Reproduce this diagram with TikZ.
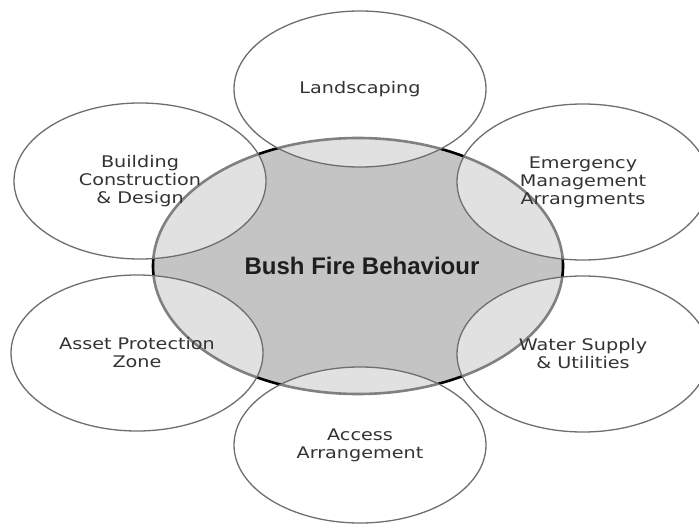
\documentclass[tikz,border=0pt]{standalone}
\usepackage{fontspec}
\setmainfont{DejaVu Sans}
\newfontfamily\labelfont[FakeStretch=1.2]{DejaVu Sans}
\newfontfamily\titlefont{Liberation Sans}
\usetikzlibrary{shapes.geometric}
\definecolor{coregray}{HTML}{C4C4C4}
\definecolor{petalline}{HTML}{6E6E6E}
\definecolor{labeltext}{HTML}{333333}
\definecolor{titletext}{HTML}{1E1E1E}
\begin{document}
\begin{tikzpicture}[x=1pt,y=-1pt,
  core/.style={ellipse, draw=black, line width=2.6pt, fill=coregray,
    minimum width=410pt, minimum height=256pt, inner sep=0pt,
    font=\titlefont\bfseries\fontsize{24}{27}\selectfont, text=titletext},
  petal/.style={ellipse, draw=petalline, line width=1.3pt, fill=white,
    fill opacity=0.5, text opacity=1, minimum width=252pt, minimum height=156pt,
    inner sep=0pt, align=center, text=labeltext,
    font=\labelfont\fontsize{16}{18}\selectfont}]
\useasboundingbox (0,0) rectangle (699,524);
\node[core] (core) at (358,266) {\hspace{8pt}Bush Fire Behaviour};
\node[petal] (land) at (360,89) {Landscaping};
\node[petal] (build) at (140,181) {Building\\Construction\\\& Design};
\node[petal] (emerg) at (583,182) {Emergency\\Management\\Arrangments};
\node[petal] (asset) at (137,353) {Asset Protection\\Zone};
\node[petal] (water) at (583,354) {Water Supply\\\& Utilities};
\node[petal] (access) at (360,445) {Access\\Arrangement};
\end{tikzpicture}
\end{document}
